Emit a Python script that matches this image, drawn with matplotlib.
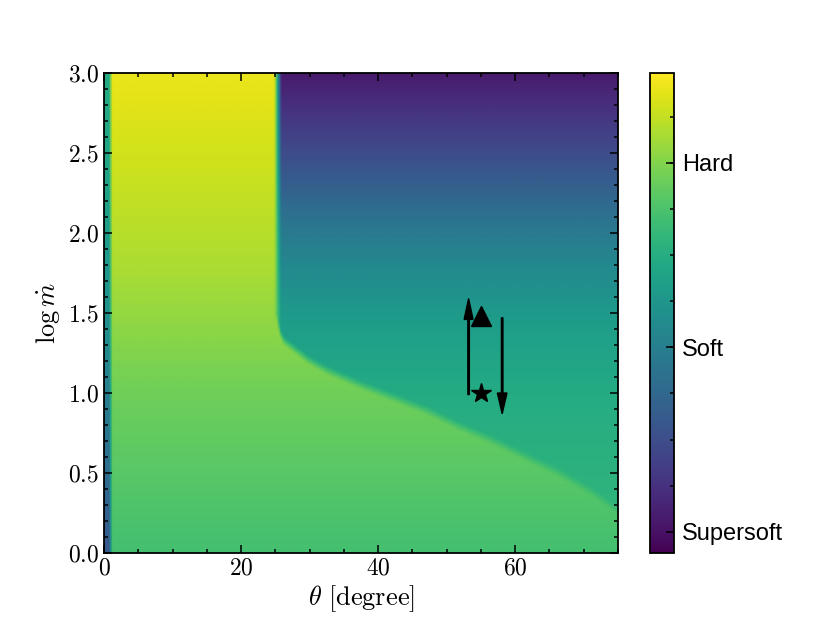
import numpy as np
import matplotlib
matplotlib.use("Agg")
import matplotlib.pyplot as plt
from matplotlib.ticker import MultipleLocator, FixedLocator

plt.rcParams['font.family'] = 'serif'
plt.rcParams['font.serif'] = ['cmr10']
plt.rcParams['mathtext.fontset'] = 'cm'
plt.rcParams['axes.formatter.use_mathtext'] = True
plt.rcParams['axes.unicode_minus'] = False

# boundary between the hard (left/below) and soft (upper right) states
boundary_theta = [25.3, 25.6, 26.3, 27.5, 29.9, 32.4, 37.2, 42.0, 46.9, 51.7, 56.6, 61.4, 66.3, 71.1, 75.0]
boundary_logm = [1.47, 1.39, 1.33, 1.29, 1.21, 1.15, 1.06, 0.98, 0.90, 0.80, 0.71, 0.61, 0.51, 0.39, 0.27]
edge_theta = 25.4

# colour level (0 = bottom of colour bar, 1 = top) against log mdot
level_logm = [0.0, 0.25, 0.5, 0.75, 1.0, 1.25, 1.5, 1.75, 2.0, 2.25, 2.5, 2.75, 3.0]
hard_val = [0.70, 0.72, 0.74, 0.76, 0.78, 0.81, 0.84, 0.87, 0.89, 0.91, 0.93, 0.95, 0.97]
soft_val = [0.66, 0.65, 0.64, 0.63, 0.61, 0.58, 0.54, 0.48, 0.41, 0.32, 0.23, 0.15, 0.07]
first_col_val = [0.27, 0.31, 0.35, 0.39, 0.43, 0.47, 0.50, 0.53, 0.55, 0.57, 0.59, 0.60, 0.61]

# colour bar labels
state_names = ['Supersoft', 'Soft', 'Hard']
state_pos = [0.044, 0.429, 0.8125]

# observed points
tri_theta, tri_logm = 55.0, 1.48
star_theta, star_logm = 55.0, 1.0
up_arrow = (53.2, 0.99, 1.59)
down_arrow = (58.1, 1.47, 0.87)

theta = np.linspace(0, 75, 301)
logm = np.linspace(0, 3, 301)
TH, LM = np.meshgrid(theta, logm)

hard = np.interp(LM, level_logm, hard_val)
soft = np.interp(LM, level_logm, soft_val)
first = np.interp(LM, level_logm, first_col_val)
curve = np.interp(TH, boundary_theta, boundary_logm)
# soft share, blurred over a few pixels like the original map
wx = np.clip((TH - edge_theta) / 1.0 + 0.5, 0, 1)
wy = np.clip((LM - curve) / 0.06 + 0.5, 0, 1)
w = wx * wy
Z = hard * (1 - w) + soft * w
wf = np.clip((1.15 - TH) / 0.35, 0, 1)
Z = first * wf + Z * (1 - wf)

fig = plt.figure(figsize=(8.3, 6.23), dpi=100)
ax = fig.add_axes([104/830, 1-553/623, 514/830, 480/623])
mesh = ax.pcolormesh(TH, LM, Z, cmap='viridis', vmin=0, vmax=1, shading='gouraud')

ax.plot(tri_theta, tri_logm, marker='^', color='k', ms=14, ls='none')
ax.plot(star_theta, star_logm, marker='*', color='k', ms=15, ls='none')
ax.arrow(up_arrow[0], up_arrow[1], 0, up_arrow[2]-up_arrow[1], width=0.22, head_width=1.3,
         head_length=0.13, length_includes_head=True, color='k')
ax.arrow(down_arrow[0], down_arrow[1], 0, down_arrow[2]-down_arrow[1], width=0.22, head_width=1.4,
         head_length=0.13, length_includes_head=True, color='k')

ax.set_xlim(0, 75)
ax.set_ylim(0, 3)
ax.xaxis.set_major_locator(MultipleLocator(20))
ax.xaxis.set_minor_locator(MultipleLocator(5))
ax.yaxis.set_major_locator(MultipleLocator(0.5))
ax.yaxis.set_minor_locator(MultipleLocator(0.1))
ax.tick_params(which='both', direction='in', top=True, right=True, width=1.1, labelsize=17)
ax.tick_params(which='major', length=6)
ax.tick_params(which='minor', length=3)
for s in ax.spines.values():
    s.set_linewidth(1.3)
ax.set_xlabel(r'$\theta\ \mathrm{[degree]}$', fontsize=19, labelpad=2)
ax.set_ylabel(r'$\log\dot{m}$', fontsize=19, labelpad=4)

cax = fig.add_axes([650/830, 1-553/623, 24/830, 480/623])
cb = fig.colorbar(mesh, cax=cax)
cb.set_ticks(state_pos)
cb.set_ticklabels(state_names)
cax.yaxis.set_minor_locator(FixedLocator(np.arange(0.044, 0.95, 0.3845/4)))
cax.tick_params(which='both', direction='in', width=1.1)
cax.tick_params(which='major', length=6, pad=6)
cax.tick_params(which='minor', length=3)
for lab in cax.get_yticklabels():
    lab.set_family('Liberation Sans')
    lab.set_fontsize(17)
cb.outline.set_linewidth(1.3)

fig.savefig('out.png', dpi=100)
